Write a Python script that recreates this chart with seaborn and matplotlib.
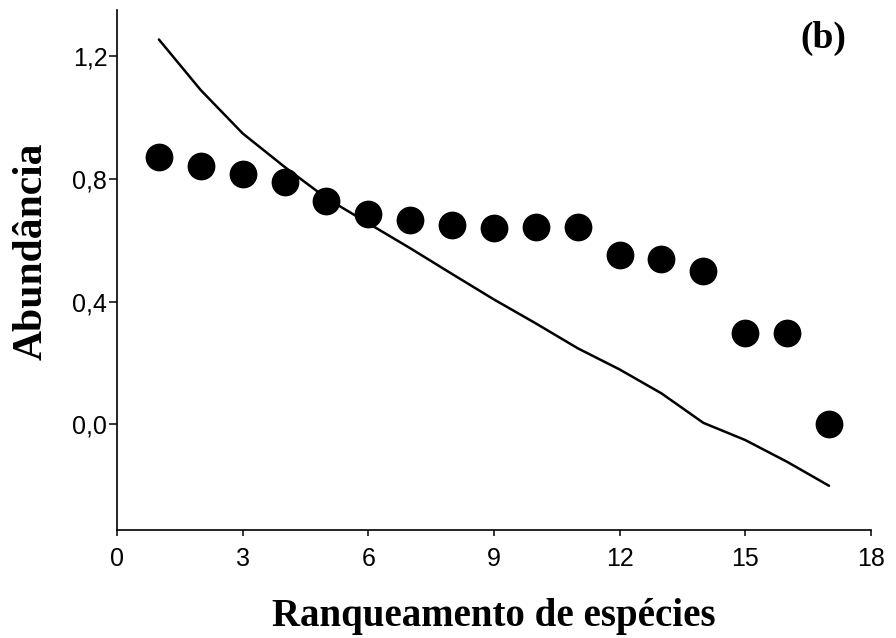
import matplotlib
matplotlib.use("Agg")
import matplotlib.pyplot as plt
import seaborn as sns
import pandas as pd
from matplotlib.ticker import FuncFormatter

# Data
rank = [1, 2, 3, 4, 5, 6, 7, 8, 9, 10, 11, 12, 13, 14, 15, 16, 17]
observed = [0.870, 0.842, 0.816, 0.789, 0.728, 0.686, 0.666, 0.648, 0.641,
            0.642, 0.642, 0.552, 0.538, 0.500, 0.298, 0.298, 0.000]
fitted = [1.254, 1.089, 0.948, 0.839, 0.737, 0.655, 0.574, 0.490, 0.407,
          0.329, 0.248, 0.179, 0.101, 0.005, -0.051, -0.122, -0.200]
x_ticks = [0, 3, 6, 9, 12, 15, 18]
y_ticks = [0.0, 0.4, 0.8, 1.2]

df = pd.DataFrame({"rank": rank, "observed": observed, "fitted": fitted})

sns.set_theme(style="ticks")
plt.rcParams["font.family"] = ["Liberation Sans", "DejaVu Sans"]

fig = plt.figure(figsize=(8.96, 6.38), dpi=100)
ax = fig.add_axes([0.1306, 0.1693, 0.8414, 0.815])

sns.lineplot(data=df, x="rank", y="fitted", ax=ax, color="black", linewidth=1.8, zorder=2)
sns.scatterplot(data=df, x="rank", y="observed", ax=ax, color="black", s=400,
                linewidth=0, zorder=3)

ax.set_xlim(0, 18)
ax.set_ylim(-0.344, 1.35)
ax.set_xticks(x_ticks)
ax.set_yticks(y_ticks)
ax.yaxis.set_major_formatter(FuncFormatter(lambda v, p: f"{v:.1f}".replace(".", ",")))

for side in ["top", "right"]:
    ax.spines[side].set_visible(False)
for side in ["left", "bottom"]:
    ax.spines[side].set_linewidth(1.2)
    ax.spines[side].set_color("black")

ax.tick_params(axis="both", colors="black", width=1.1, labelsize=18, direction="out")
ax.tick_params(axis="x", length=4.5, pad=7.5)
ax.tick_params(axis="y", length=5.5, pad=1.5)

serif = ["Liberation Serif", "DejaVu Serif"]
ax.set_xlabel("Ranqueamento de espécies", fontsize=28, fontweight="bold",
              family=serif, color="black", labelpad=20)
ax.set_ylabel("Abundância", fontsize=30, fontweight="bold",
              family=serif, color="black")
ax.yaxis.set_label_coords(-0.088, 0.537)

ax.text(0.937, 0.946, "(b)", transform=ax.transAxes, fontsize=27, fontweight="bold",
        family=serif, ha="center", va="center", color="black")

fig.savefig("out.png", dpi=100)
